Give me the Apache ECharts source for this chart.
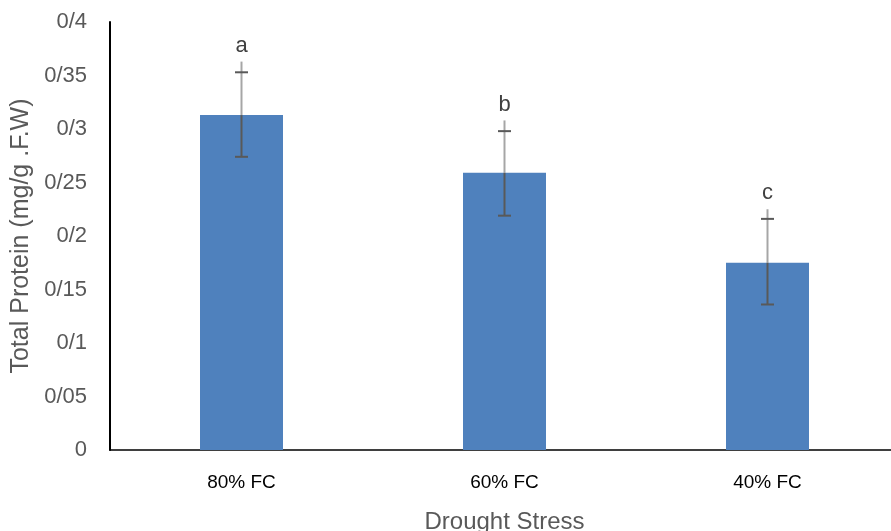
<!DOCTYPE html>
<html>
<head>
<meta charset="utf-8">
<script src="https://cdn.jsdelivr.net/npm/echarts@6/dist/echarts.min.js"></script>
<style>
html,body{margin:0;padding:0;background:#fff;}
#chart{width:891px;height:531px;}
</style>
</head>
<body>
<div id="chart"></div>
<script>
var categories = ['80% FC', '60% FC', '40% FC'];
var proteinMean = [0.313, 0.259, 0.175];
var errorLow = [0.274, 0.219, 0.136];
var errorHigh = [0.353, 0.298, 0.216];
var errorTail = [0.363, 0.308, 0.225];
var letters = ['a', 'b', 'c'];
var yTickLabels = ['0', '0/05', '0/1', '0/15', '0/2', '0/25', '0/3', '0/35', '0/4'];

var FONT = '"Liberation Sans", Arial, sans-serif';

var errData = categories.map(function (c, i) {
  return [i, proteinMean[i], errorLow[i], errorHigh[i], errorTail[i]];
});

var chart = echarts.init(document.getElementById('chart'), null, {renderer: 'canvas'});
chart.setOption({
  animation: false,
  backgroundColor: '#ffffff',
  grid: {left: 110, top: 22, width: 789, height: 428, containLabel: false, outerBoundsMode: 'none'},
  xAxis: {
    type: 'category',
    data: categories,
    name: 'Drought Stress',
    nameLocation: 'middle',
    nameGap: 60,
    nameTextStyle: {color: '#595959', fontSize: 24, fontFamily: FONT},
    axisLine: {show: true, lineStyle: {color: '#000', width: 1.5}},
    axisTick: {show: false},
    axisLabel: {color: '#000', fontSize: 19, fontFamily: FONT, margin: 23},
    splitLine: {show: false}
  },
  yAxis: {
    type: 'value',
    min: 0,
    max: 0.4,
    interval: 0.05,
    name: 'Total Protein (mg/g .F.W)',
    nameLocation: 'middle',
    nameGap: 71,
    nameRotate: 90,
    nameTextStyle: {color: '#595959', fontSize: 25, fontFamily: FONT},
    axisLine: {show: true, lineStyle: {color: '#000', width: 2}},
    axisTick: {show: false},
    splitLine: {show: false},
    axisLabel: {
      color: '#595959', fontSize: 22, fontFamily: FONT, margin: 23,
      formatter: function (v) { return yTickLabels[Math.round(v / 0.05)]; }
    }
  },
  series: [
    {
      type: 'bar',
      data: proteinMean,
      barWidth: 83,
      itemStyle: {color: '#4F81BD'},
      z: 2
    },
    {
      type: 'custom',
      data: errData,
      z: 5,
      renderItem: function (params, api) {
        var x = api.value(0);
        var pMean = api.coord([x, api.value(1)]);
        var pLow = api.coord([x, api.value(2)]);
        var pHigh = api.coord([x, api.value(3)]);
        var pTail = api.coord([x, api.value(4)]);
        var cx = pMean[0];
        var hw = 6.5;
        var dark = '#595959';
        return {
          type: 'group',
          children: [
            {type: 'line', shape: {x1: cx, y1: pMean[1], x2: cx, y2: pTail[1]},
             style: {stroke: '#A6A6A6', lineWidth: 2}},
            {type: 'line', shape: {x1: cx, y1: pMean[1], x2: cx, y2: pLow[1]},
             style: {stroke: dark, lineWidth: 2}},
            {type: 'line', shape: {x1: cx - hw, y1: pLow[1], x2: cx + hw, y2: pLow[1]},
             style: {stroke: dark, lineWidth: 2}},
            {type: 'line', shape: {x1: cx - hw, y1: pHigh[1], x2: cx + hw, y2: pHigh[1]},
             style: {stroke: dark, lineWidth: 2}},
            {type: 'text', x: cx, y: pTail[1] - 5,
             style: {text: letters[params.dataIndex], fill: '#404040', fontSize: 22,
                     fontFamily: FONT, align: 'center', verticalAlign: 'bottom'}}
          ]
        };
      }
    }
  ]
});
</script>
</body>
</html>
